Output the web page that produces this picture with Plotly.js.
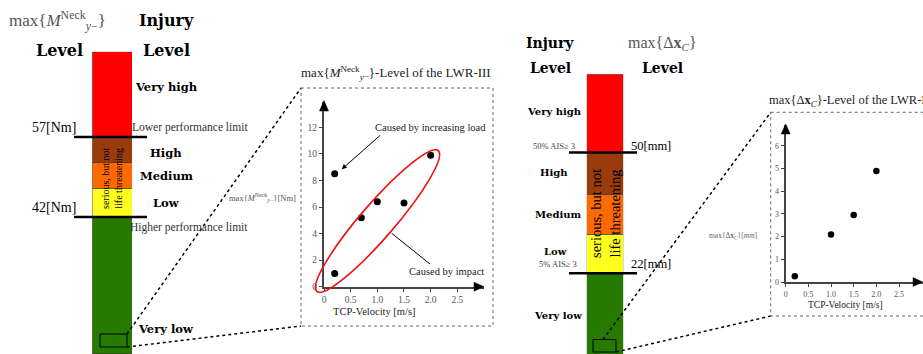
<!DOCTYPE html>
<html>
<head>
<meta charset="utf-8">
<script src="https://cdn.plot.ly/plotly-3.0.1.min.js"></script>
<style>html,body{margin:0;padding:0;background:#fff;}#chart{width:923px;height:354px;}</style>
</head>
<body>
<div id="chart"></div>
<script>
// ---------- data ----------
const bandNames = ['Very low', 'Low', 'Medium', 'High', 'Very high'];
const neckBandHeights = [137.3, 28.3, 25.7, 26.0, 85.0];
const chestBandHeights = [80.7, 39.3, 39.7, 42.0, 78.0];

const velNeck = [0.2, 0.2, 0.7, 1.0, 1.5, 2.0];
const momentNeck = [8.5, 1.0, 5.2, 6.4, 6.3, 9.9];

const velChest = [0.2, 1.0, 1.5, 2.0];
const dispChest = [0.25, 2.1, 2.95, 4.9];

const velTicks = [0, 0.5, 1, 1.5, 2, 2.5];
const velTickText = ['0', '0.5', '1.0', '1.5', '2.0', '2.5'];
const neckTicks = [0, 2, 4, 6, 8, 10, 12];
const chestTicks = [0, 1, 2, 3, 4, 5, 6];

// ---------- styles ----------
const W = 923, H = 354;
const bandColors = ['#267a00', '#ffff1f', '#ff6a00', '#993b0b', '#ff0000'];
const SERIF = 'Liberation Serif';
const BOLD = 'DejaVu Serif';
const px = x => x / W;
const py = y => 1 - y / H;

const traces = [];
bandNames.forEach((n, i) => {
  traces.push({type: 'bar', x: ['bar'], y: [neckBandHeights[i]], name: n, xaxis: 'x3', yaxis: 'y3',
    marker: {color: bandColors[i], line: {color: '#3a3a3a', width: 0.6}}, hoverinfo: 'skip'});
  traces.push({type: 'bar', x: ['bar'], y: [chestBandHeights[i]], name: n, xaxis: 'x4', yaxis: 'y4',
    marker: {color: bandColors[i], line: {color: '#3a3a3a', width: 0.6}}, hoverinfo: 'skip'});
});
traces.push({type: 'scatter', mode: 'markers', x: velNeck, y: momentNeck, xaxis: 'x', yaxis: 'y',
  marker: {color: '#000', size: 7}, cliponaxis: false});
traces.push({type: 'scatter', mode: 'markers', x: velChest, y: dispChest, xaxis: 'x2', yaxis: 'y2',
  marker: {color: '#000', size: 6.5}, cliponaxis: false});

function plotAxis(domain, range, tickvals, ticktext, anchor, fs) {
  return {domain: domain, range: range, tickvals: tickvals, ticktext: ticktext, anchor: anchor,
    showgrid: false, zeroline: false, showline: true, linecolor: '#444', linewidth: 2,
    ticks: 'outside', ticklen: 3, tickwidth: 1, tickcolor: '#444',
    tickfont: {family: SERIF, size: fs, color: '#555'}, fixedrange: true};
}
function hidden(domain, range, anchor) {
  return {domain: domain, range: range, visible: false, anchor: anchor, fixedrange: true};
}

// ---------- annotations ----------
const ann = [];
function T(text, x, y, o) {
  o = o || {};
  ann.push({text: text, x: px(x), y: py(y), xref: 'paper', yref: 'paper', showarrow: false,
    xanchor: o.xa || 'center', yanchor: 'middle', textangle: o.rot || 0,
    font: {family: o.f || SERIF, size: o.s || 12, color: o.c || '#000'}});
}
const mNeck = 'max{<i>M</i><sup>Neck</sup><sub><i>y</i>−</sub>}';
const mChest = 'max{Δ<b>x</b><sub><i>C</i></sub>}';

// left level bar
T(mNeck, 58, 20, {s: 17, c: '#555'});
T('<b>Injury</b>', 166, 20, {f: BOLD, s: 16});
T('<b>Level</b>', 60, 50, {f: BOLD, s: 16});
T('<b>Level</b>', 166, 50, {f: BOLD, s: 16});
T('<b>Very high</b>', 166, 87, {f: BOLD, s: 11.5});
T('57[Nm]', 78, 127, {xa: 'right', s: 14});
T('Lower performance limit', 130, 127, {xa: 'left', s: 11.5, c: '#333'});
T('<b>High</b>', 166, 153, {f: BOLD, s: 11.5});
T('<b>Medium</b>', 166, 176, {f: BOLD, s: 11.5});
T('<b>Low</b>', 166, 203, {f: BOLD, s: 11.5});
T('42[Nm]', 78, 207, {xa: 'right', s: 14});
T('Higher performance limit', 128, 228, {xa: 'left', s: 11.5, c: '#333'});
T('<b>Very low</b>', 166, 329, {f: BOLD, s: 11.5});
T('serious, but not<br>life threatening', 112, 178, {rot: -90, s: 10});

// plot 1
T(mNeck + '-Level of the LWR-III', 396, 73, {s: 13, c: '#222'});
T(mNeck + '[Nm]', 262, 198, {s: 8.5, c: '#555'});
T('TCP-Velocity [m/s]', 374, 311, {s: 10.5, c: '#222'});
T('Caused by increasing load', 430, 127, {s: 10.5, c: '#222'});
T('Caused by impact', 446, 271, {s: 10.5, c: '#222'});
ann.push({text: '', x: px(341.7), y: py(169.3), ax: px(381.7), ay: py(134), xref: 'paper', yref: 'paper',
  axref: 'paper', ayref: 'paper', showarrow: true, arrowhead: 2, arrowsize: 1, arrowwidth: 1, arrowcolor: '#000'});

// right level bar
T('<b>Injury</b>', 550, 43, {f: BOLD, s: 14});
T('<b>Level</b>', 550, 68, {f: BOLD, s: 14});
T(mChest, 662, 44, {s: 16, c: '#555'});
T('<b>Level</b>', 662, 68, {f: BOLD, s: 14});
T('<b>Very high</b>', 554, 111, {f: BOLD, s: 10});
T('50% AIS≥ 3', 554, 146, {s: 8.5, c: '#444'});
T('50[mm]', 629, 146, {xa: 'left', s: 12.5});
T('<b>High</b>', 554, 172, {f: BOLD, s: 10});
T('<b>Medium</b>', 558, 214, {f: BOLD, s: 10});
T('<b>Low</b>', 555, 251, {f: BOLD, s: 10});
T('5% AIS≥ 3', 558, 264, {s: 8.5, c: '#444'});
T('22[mm]', 629, 264, {xa: 'left', s: 12.5});
T('<b>Very low</b>', 558, 315, {f: BOLD, s: 10});
T('serious, but not<br>life threatening', 605, 214, {rot: -90, s: 14.5});

// plot 2
T(mChest + '-Level of the LWR-III', 767, 101, {xa: 'left', s: 12.5, c: '#222'});
T(mChest + '[<i>mm</i>]', 733, 236, {s: 7.5, c: '#666'});
T('TCP-Velocity [m/s]', 845, 305, {s: 9.5, c: '#222'});

// ---------- shapes ----------
const shapes = [];
function L(x0, y0, x1, y1, o) {
  o = o || {};
  shapes.push({type: 'line', xref: 'paper', yref: 'paper', x0: px(x0), y0: py(y0), x1: px(x1), y1: py(y1),
    line: {color: o.c || '#000', width: o.w || 1, dash: o.d || 'solid'}});
}
function R(x0, y0, x1, y1, o) {
  o = o || {};
  shapes.push({type: 'rect', xref: 'paper', yref: 'paper', x0: px(x0), y0: py(y0), x1: px(x1), y1: py(y1),
    line: {color: o.c || '#000', width: o.w || 1, dash: o.d || 'solid'}, fillcolor: 'rgba(0,0,0,0)'});
}
function TRI(pts) {
  const d = 'M' + pts.map(p => px(p[0]) + ',' + py(p[1])).join(' L') + ' Z';
  shapes.push({type: 'path', xref: 'paper', yref: 'paper', path: d, fillcolor: '#000', line: {color: '#000', width: 0.5}});
}
// threshold lines
L(74, 137, 147, 137, {w: 2.5});
L(74, 217, 147, 217, {w: 2.5});
L(569, 152.5, 637, 152.5, {w: 2.5});
L(569, 273.3, 637, 273.3, {w: 2.5});
// zoom rectangles and dotted connectors
R(100, 334, 127, 347, {w: 1});
L(127, 334, 301, 88, {d: 'dot', w: 1.5});
L(127, 347, 301, 326, {d: 'dot', w: 1.5});
R(301, 88, 493, 326, {d: 'dot', w: 1, c: '#666'});
R(593, 339.5, 616, 352, {w: 1});
L(603, 339.5, 770.7, 112.3, {d: 'dot', w: 1.5});
L(616, 352, 770.7, 316, {d: 'dot', w: 1.5});
R(770.7, 112.3, 940, 316, {d: 'dot', w: 1, c: '#666'});
// arrowheads
TRI([[324, 100.5], [319.5, 111], [328.5, 111]]);
TRI([[484, 286.7], [474, 282.2], [474, 291.2]]);
TRI([[785.7, 124], [781.2, 134], [790.2, 134]]);
TRI([[922.5, 282], [913, 277.5], [913, 286.5]]);
L(430, 264, 391.7, 233.3, {w: 1});
// ellipse around impact points (pixel-space geometry)
(function () {
  const cx = 377.5, cy = 221, a = 93, b = 17, th = 49.2 * Math.PI / 180;
  const u = [Math.cos(th), -Math.sin(th)], v = [Math.sin(th), Math.cos(th)];
  const P = (s, t) => [cx + s * u[0] + t * v[0], cy + s * u[1] + t * v[1]];
  const k = 0.5523;
  const seq = [[a, 0], [0, b], [-a, 0], [0, -b], [a, 0]];
  const f = p => px(p[0]) + ',' + py(p[1]);
  let d = 'M' + f(P(a, 0));
  for (let i = 0; i < 4; i++) {
    const s0 = seq[i], s1 = seq[i + 1];
    const cp1 = P(s0[0] + k * s1[0], s0[1] + k * s1[1]);
    const cp2 = P(s1[0] + k * s0[0], s1[1] + k * s0[1]);
    d += ' C' + f(cp1) + ' ' + f(cp2) + ' ' + f(P(s1[0], s1[1]));
  }
  shapes.push({type: 'path', xref: 'paper', yref: 'paper', path: d, line: {color: '#ee1111', width: 1.6}});
})();

const layout = {
  width: W, height: H, margin: {l: 0, r: 0, t: 0, b: 0}, showlegend: false,
  paper_bgcolor: '#fff', plot_bgcolor: 'rgba(0,0,0,0)',
  barmode: 'stack', bargap: 0,
  font: {family: SERIF, color: '#000'},
  xaxis: plotAxis([324 / W, 484 / W], [0, 160 / 53.33], velTicks, velTickText, 'y', 9.5),
  yaxis: plotAxis([py(286.7), py(101.7)], [0, 185 / 13.28], neckTicks, neckTicks.map(String), 'x', 9.5),
  xaxis2: plotAxis([785.7 / W, 922.5 / W], [0, 136.8 / 45.33], velTicks, velTickText, 'y2', 8),
  yaxis2: plotAxis([py(282), py(125)], [0, 157 / 22.67], chestTicks, chestTicks.map(String), 'x2', 8),
  xaxis3: hidden([92.3 / W, 132 / W], [-0.5, 0.5], 'y3'),
  yaxis3: hidden([0, py(51.7)], [0, 302.3], 'x3'),
  xaxis4: hidden([586.7 / W, 623.3 / W], [-0.5, 0.5], 'y4'),
  yaxis4: hidden([0, py(74.3)], [0, 279.7], 'x4'),
  annotations: ann,
  shapes: shapes
};
Plotly.newPlot('chart', traces, layout, {displayModeBar: false, staticPlot: true});
</script>
</body>
</html>
